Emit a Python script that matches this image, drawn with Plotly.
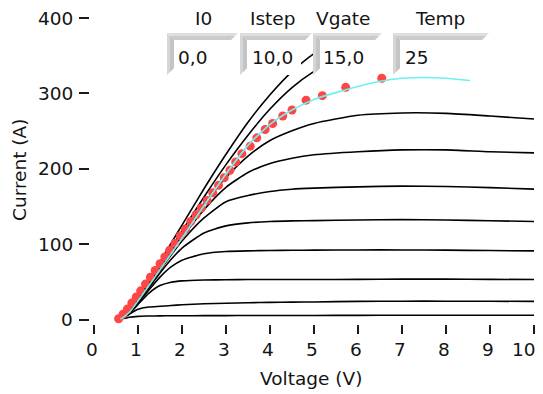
import plotly.graph_objects as go

# ---------------- data ----------------
V_grid = [0.6, 0.8, 1.0, 1.25, 1.5, 1.75, 2.0, 2.5, 3.0, 3.5, 4.0, 4.5, 5.0, 6.0, 7.0, 8.0, 9.0, 10.0]
I_c1 = [0, 3.0, 4.2, 4.6, 4.8, 5.0, 5.0, 5.1, 5.2, 5.3, 5.3, 5.4, 5.4, 5.5, 5.6, 5.6, 5.6, 5.6]
I_c2 = [0, 7, 13.5, 16.5, 17.5, 18.5, 19.5, 20.8, 21.6, 22.2, 22.7, 23.0, 23.3, 24.0, 24.3, 24.3, 24.2, 24.0]
I_c3 = [0, 7.7, 20, 35, 45, 49.5, 51.3, 52.4, 52.8, 53, 53, 53, 53, 53.2, 53.5, 53.5, 53.3, 53]
I_c4 = [0, 8.3, 21.7, 39.4, 56.2, 69.7, 78.7, 87.3, 90.2, 91.1, 91.5, 91.8, 92, 92.3, 92.3, 92, 91.5, 91]
I_c5 = [0, 8.8, 23.2, 42.2, 61.6, 79.5, 94.8, 114.8, 124.2, 128.2, 130.0, 130.8, 131.2, 132, 132.5, 132, 131, 130]
I_c6 = [0, 9.2, 24.4, 44.4, 65.1, 85.3, 104.1, 134.7, 156.3, 164.4, 169.9, 172.9, 174.3, 176, 177, 176.5, 175, 173]
I_c7 = [0, 9.5, 24.9, 45.6, 66.9, 88.1, 108.7, 145.8, 175.4, 195.0, 207.0, 214.0, 218.5, 222.6, 225, 225, 222.5, 221]
I_c8 = [0, 9.7, 25.5, 46.6, 68.6, 90.3, 111.8, 153.2, 188.5, 216.9, 237.4, 250.3, 260, 271, 274, 273.5, 270, 266]

V_c9 = [0.6, 0.8, 1.0, 1.25, 1.5, 1.75, 2.0, 2.5, 3.0, 3.5, 4.0, 4.5, 5.0, 5.5, 6.0]
I_c9 = [0, 10.1, 26.7, 48.8, 71.8, 94.8, 117.4, 162.6, 205.5, 244.5, 279.2, 307.7, 329.2, 345.2, 357]
V_c10 = [0.6, 0.8, 1.0, 1.25, 1.5, 1.75, 2.0, 2.5, 3.0, 3.5, 4.0, 4.5, 5.0, 5.45]
I_c10 = [0, 10.8, 28.4, 51.9, 76.4, 100.9, 125.2, 173.5, 219.2, 261.7, 298.2, 328.9, 352.8, 368]

V_fit = [0.6, 0.8, 1.0, 1.25, 1.5, 1.75, 2.0, 2.5, 3.0, 3.5, 4.0, 4.5, 5.0, 5.5, 6.0, 6.5, 7.0, 7.5, 8.0, 8.55]
I_fit = [0, 9.3, 24.5, 45, 66, 87, 108, 151, 193, 231, 259, 278, 292, 301, 309, 316, 320, 321, 320, 317]

V_meas = [0.56, 0.66, 0.76, 0.86, 0.96, 1.06, 1.17, 1.28, 1.39, 1.50, 1.61, 1.72, 1.84, 1.96, 2.08, 2.20,
          2.32, 2.44, 2.57, 2.70, 2.83, 2.96, 3.09, 3.22, 3.36, 3.55, 3.70, 3.89, 4.06, 4.29, 4.50, 4.82,
          5.19, 5.72, 6.54]
I_meas = [1, 7, 14, 22, 30, 38, 47, 56, 65, 74, 83, 92, 101, 111, 120, 130, 139, 148, 158, 168, 178,
          188, 198, 209, 220, 230, 241, 252, 260, 270, 278, 291, 297, 308, 320]

x_ticks = [0, 1, 2, 3, 4, 5, 6, 7, 8, 9, 10]
y_ticks = [0, 100, 200, 300, 400]

control_labels = ["I0", "Istep", "Vgate", "Temp"]
control_values = ["0,0", "10,0", "15,0", "25"]

# ---------------- figure ----------------
# page body has an 8px margin; all pixel positions below are window pixels
OFF = 8
WIN_W, WIN_H = 543, 394
W, H = WIN_W - OFF, WIN_H - OFF
PLOT_L, PLOT_R, PLOT_T, PLOT_B = 89, 534, 18, 324   # window pixels of axis frame
ML, MT = PLOT_L - OFF, PLOT_T - OFF
MR = (W + OFF) - PLOT_R
MB = (H + OFF) - PLOT_B
PW, PH = PLOT_R - PLOT_L, PLOT_B - PLOT_T
FS = 18.5


def px(x):
    return (x - PLOT_L) / PW


def py(y):
    return (PLOT_B - y) / PH


fig = go.Figure()
black_curves = [(V_grid, I_c1), (V_grid, I_c2), (V_grid, I_c3), (V_grid, I_c4), (V_grid, I_c5),
                (V_grid, I_c6), (V_grid, I_c7), (V_grid, I_c8), (V_c9, I_c9), (V_c10, I_c10)]
for vx, iy in black_curves:
    fig.add_trace(go.Scatter(x=vx, y=iy, mode="lines",
                             line=dict(color="black", width=1.6, shape="spline", smoothing=0.6),
                             hoverinfo="skip"))

fig.add_trace(go.Scatter(x=V_meas, y=I_meas, mode="markers",
                         marker=dict(color="rgb(255,70,70)", size=9, line=dict(width=0)),
                         cliponaxis=False, hoverinfo="skip"))
fig.add_trace(go.Scatter(x=V_fit, y=I_fit, mode="lines",
                         line=dict(color="rgb(110,240,240)", width=1.6, shape="spline", smoothing=0.6),
                         hoverinfo="skip"))

# ---------------- controls (boxes) ----------------
boxes = [  # x0, x1(top bevel end), x_int_end, y0, y1, label center x, value left x
    (167, 238, 232, 33, 75, 203, 178),
    (240, 312, 301, 33, 75, 272, 252),
    (313, 382, 378, 33, 75, 343, 323),
    (393, 489, 484, 33, 75, 440, 405),
]
bw = 7
shapes = []
annotations = []
for (x0, x1, xi, y0, y1, lx, vx), lab, val in zip(boxes, control_labels, control_values):
    shapes.append(dict(type="rect", xref="paper", yref="paper", layer="above",
                       x0=px(x0), x1=px(xi), y0=py(y1), y1=py(y0),
                       fillcolor="white", line=dict(width=0)))
    shapes.append(dict(type="path", xref="paper", yref="paper", layer="above",
                       path=f"M {px(x0)} {py(y0)} L {px(x1)} {py(y0)} L {px(x1 - bw)} {py(y0 + bw)} "
                            f"L {px(x0 + bw)} {py(y0 + bw)} Z",
                       fillcolor="#dedede", line=dict(width=0)))
    shapes.append(dict(type="path", xref="paper", yref="paper", layer="above",
                       path=f"M {px(x0 + 3)} {py(y0 + 3)} L {px(x1 - 3)} {py(y0 + 3)} L {px(x1 - bw)} {py(y0 + bw)} "
                            f"L {px(x0 + bw)} {py(y0 + bw)} Z",
                       fillcolor="#cbcbcb", line=dict(width=0)))
    shapes.append(dict(type="path", xref="paper", yref="paper", layer="above",
                       path=f"M {px(x0)} {py(y0)} L {px(x0 + bw)} {py(y0 + bw)} L {px(x0 + bw)} {py(y1 - bw)} "
                            f"L {px(x0)} {py(y1)} Z",
                       fillcolor="#d6d6d6", line=dict(width=0)))
    shapes.append(dict(type="path", xref="paper", yref="paper", layer="above",
                       path=f"M {px(x0 + 3)} {py(y0 + 3)} L {px(x0 + bw)} {py(y0 + bw)} L {px(x0 + bw)} {py(y1 - bw)} "
                            f"L {px(x0 + 3)} {py(y1 - 3)} Z",
                       fillcolor="#c4c4c4", line=dict(width=0)))
    annotations.append(dict(xref="paper", yref="paper", x=px(lx), y=py(19), text=lab,
                            showarrow=False, xanchor="center", yanchor="middle",
                            font=dict(size=FS)))
    annotations.append(dict(xref="paper", yref="paper", x=px(vx - 2), y=py(57), text=val,
                            showarrow=False, xanchor="left", yanchor="middle",
                            font=dict(size=FS)))

# tick labels as annotations (the outer ones sit on the page edges)
for t in y_ticks:
    annotations.append(dict(xref="paper", yref="y", x=px(75), y=t, text=str(t),
                            showarrow=False, xanchor="right", yanchor="middle",
                            font=dict(size=FS)))
for t in x_ticks:
    annotations.append(dict(xref="x", yref="paper", x=t, y=py(349), text=str(t),
                            showarrow=False, xanchor="center", yanchor="middle",
                            xshift=-10 if t == x_ticks[-1] else -2,
                            font=dict(size=FS)))

annotations.append(dict(xref="paper", yref="paper", x=px(311), y=py(378), text="Voltage (V)",
                        showarrow=False, xanchor="center", yanchor="middle", font=dict(size=FS)))
annotations.append(dict(xref="paper", yref="paper", x=px(19), y=py(170), text="Current (A)",
                        showarrow=False, xanchor="center", yanchor="middle", textangle=-90,
                        font=dict(size=FS)))

fig.update_layout(
    width=W, height=H,
    margin=dict(l=ML, r=MR, t=MT, b=MB, pad=0),
    paper_bgcolor="white", plot_bgcolor="white",
    showlegend=False,
    font=dict(family="DejaVu Sans", size=FS, color="#141414"),
    shapes=shapes, annotations=annotations,
    xaxis=dict(domain=[5 / PW, 1], range=[0, 10], tickvals=x_ticks, ticks="outside", ticklen=9,
               tickwidth=1.5, tickcolor="#1a1a1a", showgrid=False, zeroline=False, showline=False,
               anchor="free", position=0, showticklabels=False, fixedrange=True),
    yaxis=dict(domain=[4.5 / PH, 1], range=[0, 400], tickvals=y_ticks, ticks="outside", ticklen=10,
               tickwidth=1.5, tickcolor="#1a1a1a", showgrid=False, zeroline=False, showline=False,
               anchor="free", position=0, showticklabels=False, fixedrange=True),
)

fig.write_html("out.html")
